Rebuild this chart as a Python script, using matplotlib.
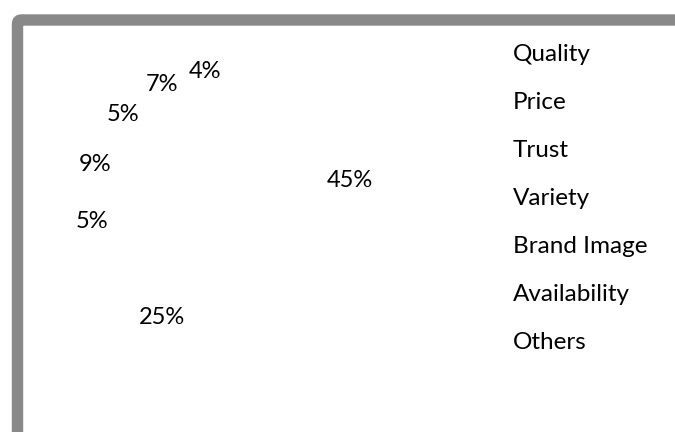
import matplotlib
matplotlib.use("Agg")
from matplotlib import pyplot as plt
from matplotlib.patches import FancyBboxPatch

# purchase drivers, share of answers (%)
categories = ['Quality', 'Price', 'Trust', 'Variety', 'Brand Image', 'Availability', 'Others']
shares = [45, 25, 5, 9, 5, 7, 4]

plt.rcParams['font.family'] = ['Lato', 'DejaVu Sans']

fig = plt.figure(figsize=(6.75, 4.32), dpi=100)
fig.patch.set_facecolor('white')
ax = fig.add_axes([0, 0, 1, 1])

# slices are white in the original, only the percentages show
wedges, texts, autotexts = ax.pie(shares, startangle=90, counterclock=False,
                                  colors=['white'] * len(shares),
                                  wedgeprops=dict(edgecolor='white', linewidth=0),
                                  autopct='%1.0f%%', pctdistance=0.6, radius=1.0,
                                  textprops=dict(fontsize=17, color='black'))

# keep equal scale: 1 data unit = 218 px, pie centre at (221, 201) px
u = 218.0
cx, cy = 221, 201
ax.set_xlim(-cx / u, (675 - cx) / u)
ax.set_ylim(-(432 - cy) / u, cy / u)
ax.set_aspect('auto')
ax.axis('off')

leg = ax.legend(wedges, categories, loc='upper left',
                bbox_to_anchor=(513 / 675, 1 - 44 / 432), bbox_transform=fig.transFigure,
                frameon=False, fontsize=17.5, handlelength=0, handletextpad=0,
                borderpad=0, borderaxespad=0, labelspacing=1.11)

# grey rounded frame, cut off at right and bottom
frame = FancyBboxPatch((17.5 / 100, -1.0), 10.0, (432 - 20) / 100 + 1.0,
                       boxstyle='round,pad=0,rounding_size=0.04',
                       transform=fig.dpi_scale_trans, facecolor='none',
                       edgecolor='#898989', linewidth=8.2)
fig.add_artist(frame)

fig.savefig('out.png', dpi=100)
